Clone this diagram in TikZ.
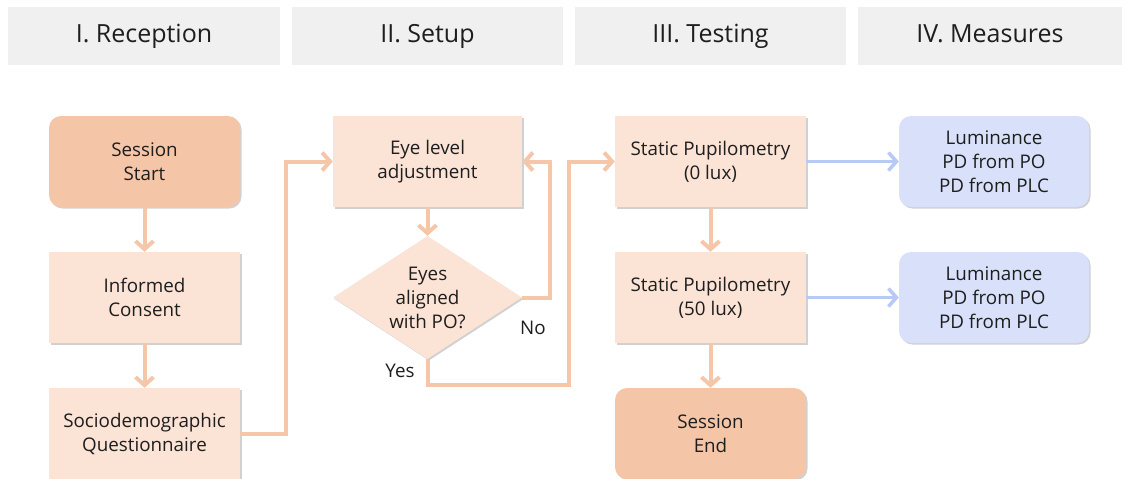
\documentclass[tikz,border=0pt]{standalone}
\usepackage{fontspec}
\setmainfont{Open Sans}
\usetikzlibrary{arrows.meta,shapes.geometric,shadows}
\definecolor{hdr}{HTML}{F0F0F0}
\definecolor{salmon}{HTML}{F5C5A8}
\definecolor{peach}{HTML}{FBE3D6}
\definecolor{wire}{HTML}{F6C6A9}
\definecolor{lav}{HTML}{D9E1FA}
\definecolor{bluewire}{HTML}{B9C9F5}
\definecolor{ink}{HTML}{1E1E1E}
\begin{document}
\begin{tikzpicture}[x=1pt,y=-1pt,
  header/.style={fill=hdr, minimum width=272pt, minimum height=58pt, inner sep=0pt,
    text=ink, font=\fontsize{25}{30}\selectfont, text height=18pt, text depth=5pt},
  boxbase/.style={minimum width=191pt, minimum height=91pt, inner sep=0pt, align=center,
    text=ink, font=\fontsize{18.8}{24}\selectfont,
    drop shadow={shadow xshift=1.5pt, shadow yshift=-1.5pt, opacity=0.18, fill=black}},
  startend/.style={boxbase, fill=salmon, rounded corners=12pt},
  stepbox/.style={boxbase, fill=peach},
  decision/.style={boxbase, fill=peach, diamond, aspect=1.54, inner sep=-10pt,
    minimum width=189pt, minimum height=123pt},
  measure/.style={boxbase, fill=lav, rounded corners=12pt, minimum width=190pt},
  flow/.style={draw=wire, line width=4pt, -{Straight Barb[length=8pt,width=18pt]}},
  bflow/.style={draw=bluewire, line width=3.5pt, -{Straight Barb[length=8pt,width=18pt]}},
  lbl/.style={text=ink, font=\fontsize{18.8}{24}\selectfont, inner sep=0pt}
]
\useasboundingbox (0,0) rectangle (1122,479);

% phase headers
\node[header] (h1) at (144,36) {I. Reception};
\node[header, minimum width=271pt] (h2) at (427.5,36) {II. Setup};
\node[header, minimum width=271pt] (h3) at (710.5,36) {III. Testing};
\node[header, minimum width=264pt] (h4) at (990,36) {IV. Measures};

% I. Reception
\node[startend] (start) at (144.5,161.5) {Session\\Start};
\node[stepbox] (consent) at (144.5,297.5) {Informed\\Consent};
\node[stepbox] (socio) at (144.5,433.5) {Sociodemographic\\Questionnaire};

% II. Setup
\node[stepbox, minimum width=189pt] (eye) at (427.5,161.5) {Eye level\\adjustment};
\node[decision] (align) at (427.5,297.5) {Eyes\\aligned\\with PO?};

% III. Testing
\node[stepbox] (dark) at (710.5,161.5) {Static Pupilometry\\(0 lux)};
\node[stepbox] (lit) at (710.5,297.5) {Static Pupilometry\\(50 lux)};
\node[startend] (finish) at (710.5,433.5) {Session\\End};

% IV. Measures
\node[measure] (m1) at (994,161.5) {Luminance\\PD from PO\\PD from PLC};
\node[measure] (m2) at (994,297.5) {Luminance\\PD from PO\\PD from PLC};

% flow connectors
\draw[flow] (start) -- (consent);
\draw[flow] (consent) -- (socio);
\draw[flow] (socio.east) -- ([xshift=46pt]socio.east) |- (eye.west);
\draw[flow] (eye) -- (align);
\draw[flow] (align.east) -- ([xshift=28pt]align.east) |- (eye.east);
\draw[flow] (align.south) -- ([yshift=-26pt]align.south) -| ([xshift=-46pt]dark.west) -- (dark.west);
\draw[flow] (dark) -- (lit);
\draw[flow] (lit) -- (finish);
\draw[bflow] (dark) -- (m1);
\draw[bflow] (lit) -- (m2);

% branch labels
\node[lbl] (no) at (533,328) {No};
\node[lbl] (yes) at (400,371) {Yes};
\end{tikzpicture}
\end{document}
